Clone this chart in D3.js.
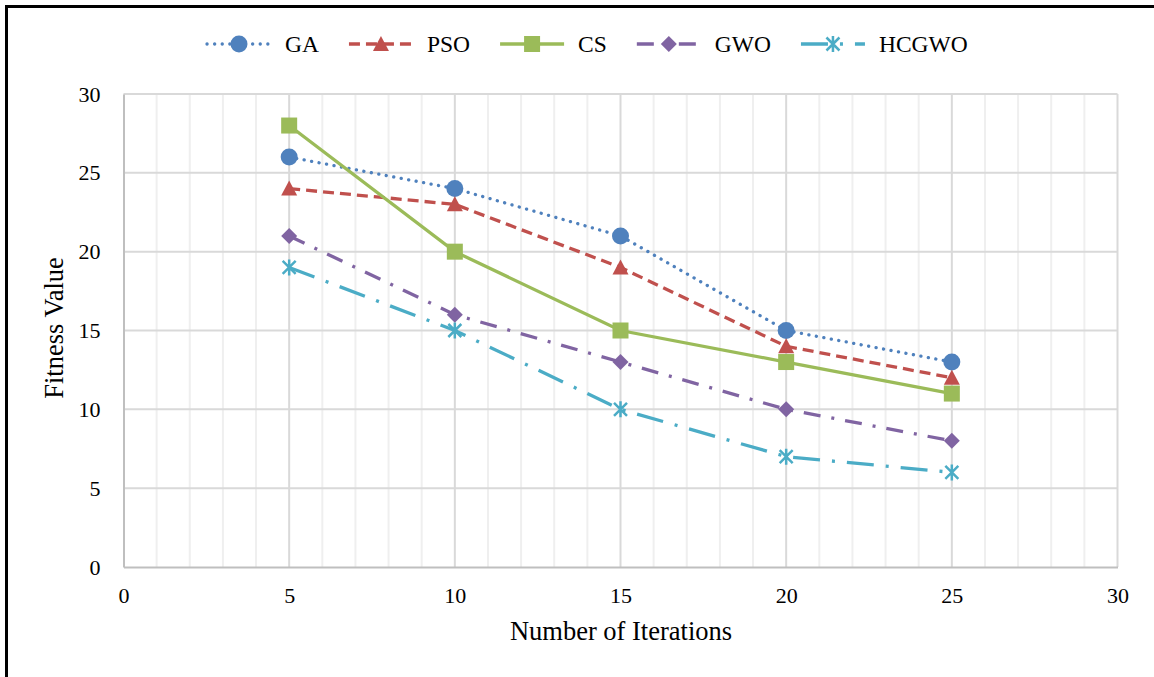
<!DOCTYPE html>
<html>
<head>
<meta charset="utf-8">
<script src="https://cdnjs.cloudflare.com/ajax/libs/d3/7.8.5/d3.min.js"></script>
<style>
    body { margin: 0; background: #fff; }
    svg text { font-family: "Liberation Serif", "Times New Roman", serif; fill: #000; }
</style>
</head>
<body>
<svg id="chart" width="1154" height="677"></svg>
<script>
// chart data
var iterations = [5, 10, 15, 20, 25];
var seriesNames = ["GA", "PSO", "CS", "GWO", "HCGWO"];
var gaValues = [26, 24, 21, 15, 13];
var psoValues = [24, 23, 19, 14, 12];
var csValues = [28, 20, 15, 13, 11];
var gwoValues = [21, 16, 13, 10, 8];
var hcgwoValues = [19, 15, 10, 7, 6];
var xTicks = [0, 5, 10, 15, 20, 25, 30];
var yTicks = [0, 5, 10, 15, 20, 25, 30];

// colours / line styles / markers per series
var colors = ["#4f81bd", "#c0504d", "#9bbb59", "#8064a2", "#4bacc6"];
var dashes = ["0.1 7.5", "11 6", null, "17 11 3 11", "27 12 3 12"];
var caps = ["round", "butt", "butt", "butt", "butt"];
var markers = ["circle", "triangle", "square", "diamond", "star"];
var allValues = [gaValues, psoValues, csValues, gwoValues, hcgwoValues];

var serif = "'Liberation Serif', 'Times New Roman', serif";
var svg = d3.select("#chart");

// scales
var x = d3.scaleLinear().domain([0, 30]).range([123.5, 1117.5]);
var y = d3.scaleLinear().domain([0, 30]).range([567, 94]);

// outer frame (only top and left edges are visible)
svg.append("line").attr("x1", 5).attr("x2", 1154).attr("y1", 6.5).attr("y2", 6.5)
    .attr("stroke", "#000").attr("stroke-width", 3);
svg.append("line").attr("x1", 6.5).attr("x2", 6.5).attr("y1", 5).attr("y2", 677)
    .attr("stroke", "#000").attr("stroke-width", 3);

// minor vertical grid, every 1
var minor = d3.range(1, 30).filter(function(v) { return v % 5 != 0; });
svg.append("g").selectAll("line").data(minor).enter().append("line")
    .attr("x1", function(d) { return x(d); })
    .attr("x2", function(d) { return x(d); })
    .attr("y1", y(30)).attr("y2", y(0))
    .attr("stroke", "#efefef").attr("stroke-width", 2);

// major grid
svg.append("g").selectAll("line").data(xTicks.slice(1)).enter().append("line")
    .attr("x1", function(d) { return x(d); })
    .attr("x2", function(d) { return x(d); })
    .attr("y1", y(30)).attr("y2", y(0))
    .attr("stroke", "#d9d9d9").attr("stroke-width", 2);
svg.append("g").selectAll("line").data(yTicks.slice(1)).enter().append("line")
    .attr("x1", x(0)).attr("x2", x(30))
    .attr("y1", function(d) { return y(d); })
    .attr("y2", function(d) { return y(d); })
    .attr("stroke", "#d9d9d9").attr("stroke-width", 2);

// axes
var xAxis = d3.axisBottom(x).tickValues(xTicks).tickSize(0).tickPadding(20);
var yAxis = d3.axisLeft(y).tickValues(yTicks).tickSize(0).tickPadding(23);
var gX = svg.append("g").attr("transform", "translate(0," + y(0) + ")").call(xAxis);
var gY = svg.append("g").attr("transform", "translate(" + x(0) + ",0)").call(yAxis);
[gX, gY].forEach(function(g) {
    g.attr("font-family", serif).attr("font-size", 22);
    g.select(".domain").attr("stroke", "#bfbfbf").attr("stroke-width", 2);
    g.selectAll("text").style("font-family", serif).style("font-size", "22px").attr("fill", "#000");
});

// axis titles
svg.append("text")
    .attr("x", 621).attr("y", 640)
    .style("text-anchor", "middle").style("font-size", "26.5px")
    .text("Number of Iterations");
svg.append("text")
    .attr("transform", "rotate(-90)")
    .attr("x", -328).attr("y", 63)
    .style("text-anchor", "middle").style("font-size", "26.5px")
    .text("Fitness Value");

// marker drawing helper
function drawMarker(g, type, color) {
    if (type == "circle") {
        g.append("circle").attr("r", 8.5).attr("fill", color);
    } else if (type == "triangle") {
        g.append("path").attr("d", "M0,-8L8,7L-8,7Z").attr("fill", color);
    } else if (type == "square") {
        g.append("rect").attr("x", -8).attr("y", -8).attr("width", 16).attr("height", 16).attr("fill", color);
    } else if (type == "diamond") {
        g.append("path").attr("d", "M0,-8L8,0L0,8L-8,0Z").attr("fill", color);
    } else {
        g.append("path").attr("d", "M0,-8V8M-6.5,-6.5L6.5,6.5M-6.5,6.5L6.5,-6.5")
            .attr("stroke", color).attr("stroke-width", 2.5).attr("fill", "none");
    }
}

var line = d3.line()
    .x(function(d) { return x(d.iter); })
    .y(function(d) { return y(d.value); });

// series lines then markers
allValues.forEach(function(vals, i) {
    var data = iterations.map(function(it, j) { return { iter: it, value: vals[j] }; });
    svg.append("path").datum(data)
        .attr("d", line)
        .attr("fill", "none")
        .attr("stroke", colors[i])
        .attr("stroke-width", 3.3)
        .attr("stroke-dasharray", dashes[i])
        .attr("stroke-linecap", caps[i]);
});
allValues.forEach(function(vals, i) {
    iterations.forEach(function(it, j) {
        var g = svg.append("g").attr("transform", "translate(" + x(it) + "," + y(vals[j]) + ")");
        drawMarker(g, markers[i], colors[i]);
    });
});

// legend across the top
var legend = svg.append("g");
var lx = 207, ly = 44;
seriesNames.forEach(function(name, i) {
    legend.append("line")
        .attr("x1", lx).attr("x2", lx + 64).attr("y1", ly).attr("y2", ly)
        .attr("stroke", colors[i]).attr("stroke-width", 3.3)
        .attr("stroke-dasharray", dashes[i])
        .attr("stroke-linecap", caps[i]);
    var mk = legend.append("g").attr("transform", "translate(" + (lx + 32) + "," + ly + ")");
    drawMarker(mk, markers[i], colors[i]);
    var t = legend.append("text")
        .attr("x", lx + 78).attr("y", ly + 8)
        .style("font-size", "23.5px")
        .text(name);
    lx = lx + 78 + t.node().getComputedTextLength() + 30;
});
</script>
</body>
</html>
